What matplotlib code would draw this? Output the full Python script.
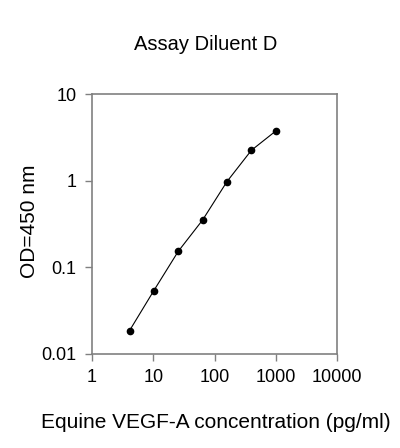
import numpy as np
import matplotlib.pyplot as plt

plt.rcParams['font.family'] = ['Liberation Sans', 'DejaVu Sans']

# standard curve, 2.5-fold dilutions
conc = [4.1, 10.24, 25.6, 64, 160, 400, 1000]
od = [0.0186, 0.054, 0.153, 0.352, 0.977, 2.24, 3.74]

x_ticks = [1, 10, 100, 1000, 10000]
x_ticklabels = ['1', '10', '100', '1000', '10000']
y_ticks = [0.01, 0.1, 1, 10]
y_ticklabels = ['0.01', '0.1', '1', '10']

fig = plt.figure(figsize=(4, 4.48), dpi=100)
ax = fig.add_axes([92 / 400, 1 - 354 / 448, 245 / 400, 260 / 448])

ax.plot(conc, od, color='black', lw=0.8, marker='o', ms=4.5, mfc='black', mec='black')

ax.set_xscale('log')
ax.set_yscale('log')
ax.set_xlim(1, 10000)
ax.set_ylim(0.01, 10)
ax.set_xticks(x_ticks)
ax.set_xticklabels(x_ticklabels)
ax.set_yticks(y_ticks)
ax.set_yticklabels(y_ticklabels)
ax.minorticks_off()

for s in ax.spines.values():
    s.set_color('#808080')
    s.set_linewidth(1.2)
ax.tick_params(direction='out', length=5, width=1, color='#808080', labelsize=13, pad=6)

ax.set_xlabel('Equine VEGF-A concentration (pg/ml)', fontsize=15)
ax.set_ylabel('OD=450 nm', fontsize=15)
ax.xaxis.set_label_coords(0.505, -0.225)
ax.yaxis.set_label_coords(-0.215, 0.51)
fig.text(206 / 400, 1 - 45 / 448, 'Assay Diluent D', fontsize=14.5, ha='center', va='center')

fig.savefig('out.png', dpi=100)
